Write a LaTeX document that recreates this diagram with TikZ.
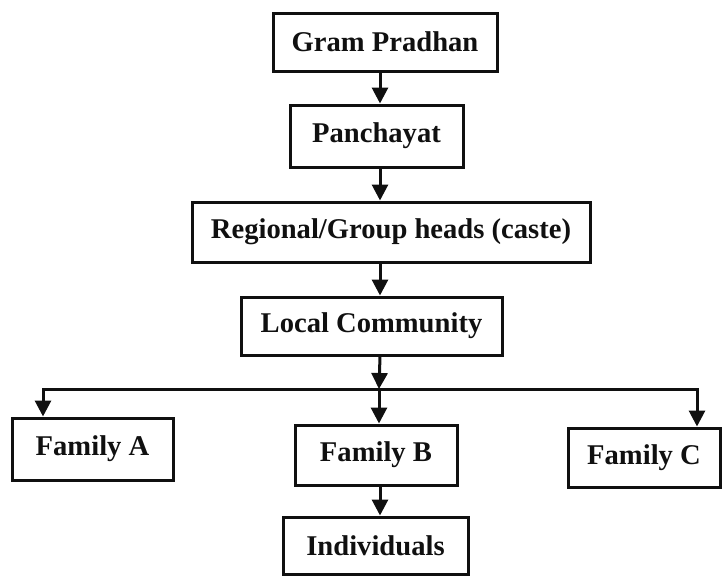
\documentclass[tikz,border=0pt]{standalone}
\definecolor{ink}{RGB}{16,16,16}
\usepackage{fontspec}
\setmainfont{Liberation Serif}
\usepackage{tikz}
\usetikzlibrary{arrows.meta,positioning,calc}
\tikzset{
  orgbox/.style={rectangle, draw=ink, line width=3pt, text=ink,
    font=\fontsize{28.6}{32}\selectfont\bfseries, align=center, inner sep=0pt},
  orgarrow/.style={-{Triangle[length=16pt,width=16pt]}, ink, line width=3pt, line join=miter}
}

\begin{document}
\begin{tikzpicture}[x=1pt,y=-1pt]
    \useasboundingbox (0,0) rectangle (723,576);
    \node[orgbox,minimum width=224pt,minimum height=58pt] (gp) at (385,42) {Gram Pradhan};
    \node[orgbox,minimum width=173pt,minimum height=62pt] (pc) at (376.5,136) {Panchayat};
    \node[orgbox,minimum width=398pt,minimum height=60pt] (rg) at (391,232) {Regional/Group heads (caste)};
    \node[orgbox,minimum width=261pt,minimum height=58pt] (lc) at (371.5,326) {Local Community};
    \node[orgbox,minimum width=161pt,minimum height=62pt] (fa) at (92.5,449) {Family A};
    \node[orgbox,minimum width=162pt,minimum height=60pt] (fb) at (376,455) {Family B};
    \node[orgbox,minimum width=152pt,minimum height=59pt] (fc) at (644,457.5) {Family C};
    \node[orgbox,minimum width=185pt,minimum height=57pt] (ind) at (375.5,545.5) {Individuals};
    % spine and bus
    \coordinate (spine) at (380,0);
    \coordinate (busA) at (43,389);
    \coordinate (busB) at (379,389);
    \coordinate (busC) at (697,389);
    \draw[orgarrow](gp.south -| spine)--(pc.north -| spine);
    \draw[orgarrow](pc.south -| spine)--(rg.north -| spine);
    \draw[orgarrow](rg.south -| spine)--(lc.north -| spine);
    \draw[orgarrow](lc.south -| spine)--(busB);
    \draw[orgarrow](busB)--(busA)--(fa.north -| busA);
    \draw[orgarrow](busB)--(fb.north -| busB);
    \draw[orgarrow](busB)--(busC)--(fc.north -| busC);
    \draw[orgarrow](fb.south -| spine)--(ind.north -| spine);
  \end{tikzpicture}
\end{document}
